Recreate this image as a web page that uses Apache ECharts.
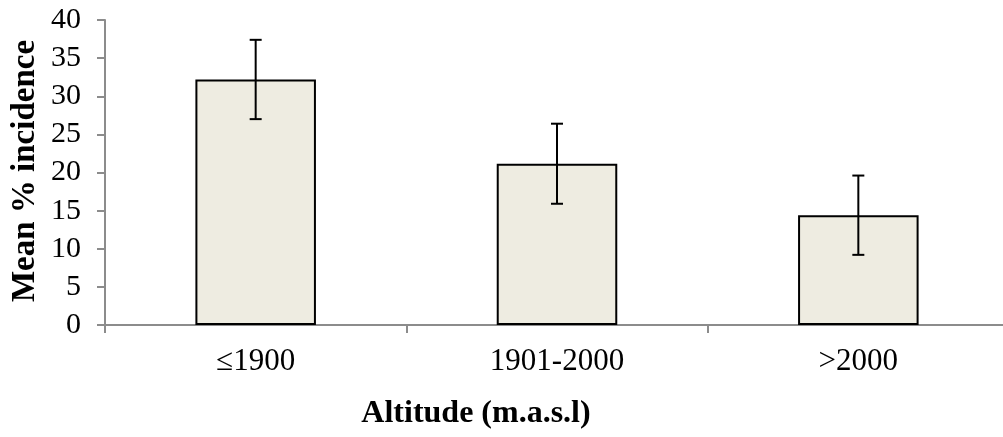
<!DOCTYPE html>
<html>
<head>
<meta charset="utf-8">
<script src="https://cdn.jsdelivr.net/npm/echarts@6/dist/echarts.min.js"></script>
<style>
html,body{margin:0;padding:0;background:#fff;overflow:hidden;width:1003px;height:437px;}
#chart{width:1009px;height:437px;}
</style>
</head>
<body>
<div id="chart"></div>
<script>
const categories = ['\u22641900', '1901-2000', '>2000'];
const meanIncidence = [32.2, 21.15, 14.4];
const errorValues = [5.2, 5.25, 5.2];
const yTicks = { min: 0, max: 40, interval: 5 };
const xTitle = 'Altitude (m.a.s.l)';
const yTitle = 'Mean % incidence';

const errorData = categories.map((c, i) => [i, meanIncidence[i] - errorValues[i], meanIncidence[i] + errorValues[i]]);

const chart = echarts.init(document.getElementById('chart'));
const FONT = '"Liberation Serif", "Times New Roman", serif';
chart.setOption({
  animation: false,
  grid: { left: 105, right: 0, top: 20, bottom: 112, containLabel: false },
  xAxis: {
    type: 'category',
    data: categories,
    axisLine: { lineStyle: { color: '#8c8c8c', width: 2 } },
    axisTick: { show: true, length: 8, lineStyle: { color: '#8c8c8c', width: 2 } },
    axisLabel: { color: '#000', fontFamily: FONT, fontSize: 31, margin: 21 }
  },
  yAxis: {
    type: 'value',
    min: yTicks.min, max: yTicks.max, interval: yTicks.interval,
    axisLine: { show: true, lineStyle: { color: '#8c8c8c', width: 2 } },
    axisTick: { show: true, length: 8, lineStyle: { color: '#8c8c8c', width: 2 } },
    splitLine: { show: false },
    axisLabel: { color: '#000', fontFamily: FONT, fontSize: 30, margin: 24 }
  },
  graphic: [
    { type: 'text', x: 476, y: 414, style: { text: xTitle, font: 'bold 32px ' + FONT, fill: '#000', textAlign: 'center', textVerticalAlign: 'middle' } },
    { type: 'text', x: 25, y: 171, rotation: Math.PI / 2, style: { text: yTitle, font: 'bold 33px ' + FONT, fill: '#000', textAlign: 'center', textVerticalAlign: 'middle' } }
  ],
  series: [
    {
      type: 'bar',
      data: meanIncidence,
      barWidth: '40%',
      itemStyle: { color: '#eeece1', borderColor: '#000', borderWidth: 2 }
    },
    {
      type: 'custom',
      data: errorData,
      z: 10,
      renderItem: function (params, api) {
        const x = api.value(0);
        const lo = api.coord([x, api.value(1)]);
        const hi = api.coord([x, api.value(2)]);
        const hw = 6;
        const st = { stroke: '#000', lineWidth: 2 };
        return {
          type: 'group',
          children: [
            { type: 'line', shape: { x1: hi[0], y1: hi[1], x2: lo[0], y2: lo[1] }, style: st },
            { type: 'line', shape: { x1: hi[0] - hw, y1: hi[1], x2: hi[0] + hw, y2: hi[1] }, style: st },
            { type: 'line', shape: { x1: lo[0] - hw, y1: lo[1], x2: lo[0] + hw, y2: lo[1] }, style: st }
          ]
        };
      }
    }
  ]
});
</script>
</body>
</html>
